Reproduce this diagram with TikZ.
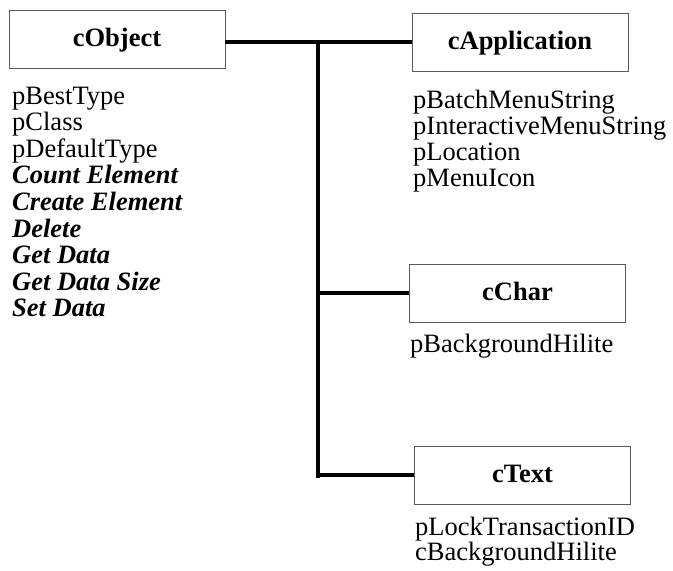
\documentclass[tikz,border=0pt]{standalone}
\usepackage{fontspec}
\setmainfont{Liberation Serif}
\begin{document}
\begin{tikzpicture}[x=1pt,y=-1pt,
  classbox/.style={draw=black!65,line width=0.9pt,minimum width=216pt,minimum height=58pt,inner sep=0pt,text height=14pt,text depth=0pt,font=\fontsize{26.5}{26.5}\selectfont\bfseries},
  attr/.style={anchor=base west,inner sep=0pt,font=\fontsize{26.5}{26.5}\selectfont},
  meth/.style={anchor=base west,inner sep=0pt,font=\fontsize{26.5}{26.5}\selectfont\bfseries\itshape},
  conn/.style={line width=3.2pt}]
\useasboundingbox (0,0) rectangle (673,571);
% boxes
\node[classbox] (obj) at (117,39.5) {cObject};
\node[classbox] (app) at (520,42) {cApplication};
\node[classbox] (chr) at (517.5,293) {cChar};
\node[classbox] (txt) at (522.5,475) {cText};
% connectors
\coordinate (j0) at (318,42);
\coordinate (j1) at (318,293);
\coordinate (j2) at (318,475);
\coordinate (jend) at (318,478);
\draw[conn] (obj.east |- j0) -- (app.west |- j0);
\draw[conn] (j0) -- (jend);
\draw[conn] (j1) -- (chr.west);
\draw[conn] (j2) -- (txt.west);
% cObject members
\node[attr] (o1) at (12,104) {pBestType};
\node[attr] (o2) at (12,130.6) {pClass};
\node[attr] (o3) at (12,157.2) {pDefaultType};
\node[meth] (o4) at (12,183.8) {Count Element};
\node[meth] (o5) at (12,210.4) {Create Element};
\node[meth] (o6) at (12,237) {Delete};
\node[meth] (o7) at (12,263.6) {Get Data};
\node[meth] (o8) at (12,290.2) {Get Data Size};
\node[meth] (o9) at (12,316.8) {Set Data};
% cApplication members
\node[attr] (a1) at (413,108) {pBatchMenuString};
\node[attr] (a2) at (413,134) {pInteractiveMenuString};
\node[attr] (a3) at (413,160) {pLocation};
\node[attr] (a4) at (413,186) {pMenuIcon};
% cChar members
\node[attr] (c1) at (410,352) {pBackgroundHilite};
% cText members
\node[attr] (t1) at (415,535) {pLockTransactionID};
\node[attr] (t2) at (415,560) {cBackgroundHilite};
\end{tikzpicture}
\end{document}
